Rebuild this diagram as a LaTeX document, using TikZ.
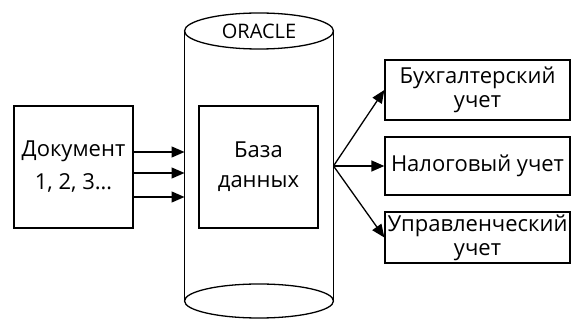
\documentclass[tikz,border=0pt]{standalone}
\usepackage{fontspec}
\setmainfont{Open Sans}
\usetikzlibrary{arrows.meta,calc}

\tikzset{box/.style={draw,line width=1.3pt,align=center,inner sep=0pt,font=\fontsize{22}{24}\selectfont}}

\begin{document}
\begin{tikzpicture}[x=1pt,y=-1pt,line width=1.3pt,>={Triangle[length=13pt,width=11pt]}]
\useasboundingbox (0,0) rectangle (571,320);
% cylinder of the base
\coordinate (cyltop) at (259,31);
\coordinate (cylbot) at (259,301);
\draw (cylbot) ellipse [x radius=74.5,y radius=17];
\draw (cyltop) ellipse [x radius=74.5,y radius=18];
\draw ($(cyltop)+(-74.5,0)$) -- ($(cylbot)+(-74.5,0)$)
      ($(cyltop)+(74.5,0)$) -- ($(cylbot)+(74.5,0)$);
\node[font=\fontsize{20}{22}\selectfont] (oracle) at (cyltop) {ORACLE};
%
\node[box,minimum width=119pt,minimum height=122pt,font=\fontsize{22}{33}\selectfont] (doc) at (73.5,167) {Документ\\1, 2, 3…};
\node[box,minimum width=119pt,minimum height=122pt,font=\fontsize{22}{30}\selectfont] (db) at (258.5,167) {База\\данных};
\node[box,minimum width=185pt,minimum height=60pt] (buh) at (477.5,90) {Бухгалтерский\\учет};
\node[box,minimum width=185pt,minimum height=58pt] (nal) at (477.5,166) {Налоговый учет};
\node[box,minimum width=185pt,minimum height=51pt] (upr) at (477.5,237.5) {Управленческий\\учет};
%
\coordinate (in1) at (184.5,152);
\coordinate (in2) at (184.5,173);
\coordinate (in3) at (184.5,197);
\coordinate (fan) at (333.5,166);
\path[->] (doc.east |- in1) edge (in1)
          (doc.east |- in2) edge (in2)
          (doc.east |- in3) edge (in3)
          (fan) edge (buh.west)
          (fan) edge (nal.west)
          (fan) edge (upr.west)
;
\end{tikzpicture}
\end{document}
